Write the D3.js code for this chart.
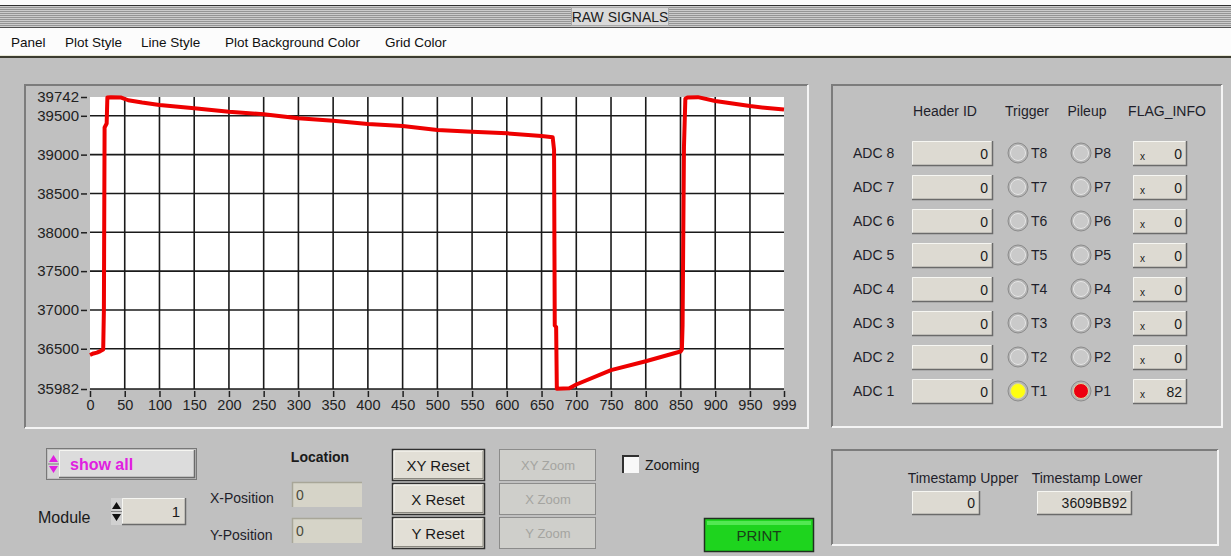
<!DOCTYPE html>
<html>
<head>
<meta charset="utf-8">
<script src="https://cdn.jsdelivr.net/npm/d3@7"></script>
<style>
  body { margin: 0; background: #c0c0c0; }
  svg { display: block; font-family: "Liberation Sans", Arial, sans-serif; }
</style>
</head>
<body>
<svg width="1231" height="556"></svg>
<script>
// ---- data ----
const signalX = [0, 5, 10, 15, 19, 20, 21, 24, 25, 30, 45, 55, 75, 100, 150, 200, 250, 300, 350, 400, 450,
  500, 550, 600, 650, 666, 668, 669, 671, 672, 690, 700, 750, 800, 850, 852, 853, 855, 857, 860, 875, 900, 950, 975, 999];
const signalY = [36420, 36440, 36450, 36470, 36490, 37000, 39350, 39400, 39735, 39740, 39735, 39700, 39670, 39640,
  39597, 39553, 39519, 39467, 39437, 39394, 39369, 39317, 39296, 39274, 39240, 39225, 39060, 36800, 36780, 35985,
  35992, 36040, 36225, 36340, 36465, 36490, 36800, 39100, 39720, 39735, 39740, 39690, 39625, 39600, 39580];
const yTicks = [35982, 36500, 37000, 37500, 38000, 38500, 39000, 39500, 39742];
const xTicks = [0, 50, 100, 150, 200, 250, 300, 350, 400, 450, 500, 550, 600, 650, 700, 750, 800, 850, 900, 950, 999];

const menuItems = ["Panel", "Plot Style", "Line Style", "Plot Background Color", "Grid Color"];
const menuX = [11, 65, 141, 225, 385];

const adcLabels = ["ADC 8", "ADC 7", "ADC 6", "ADC 5", "ADC 4", "ADC 3", "ADC 2", "ADC 1"];
const headerIds = [0, 0, 0, 0, 0, 0, 0, 0];
const triggerOn = [0, 0, 0, 0, 0, 0, 0, 1];
const pileupOn = [0, 0, 0, 0, 0, 0, 0, 1];
const flagInfo = [0, 0, 0, 0, 0, 0, 0, 82];
const timestampUpper = "0";
const timestampLower = "3609BB92";

const svg = d3.select('svg');
const WIDTH = +svg.attr('width');

// ---- title bar + menu ----
svg.append('rect').attr('x', 0).attr('y', 0).attr('width', WIDTH).attr('height', 57).attr('fill', '#fcfcfc');
svg.append('rect').attr('x', 0).attr('y', 5).attr('width', WIDTH).attr('height', 23).attr('fill', '#cccccc');
svg.append('g').selectAll('line')
  .data(d3.range(7.5, 27, 2))
  .enter().append('line')
  .attr('x1', 0).attr('x2', WIDTH)
  .attr('y1', d => d).attr('y2', d => d)
  .attr('stroke', '#959595').attr('stroke-width', 1);
svg.append('line').attr('x1', 0).attr('x2', WIDTH).attr('y1', 5.5).attr('y2', 5.5).attr('stroke', '#303030');
svg.append('line').attr('x1', 0).attr('x2', WIDTH).attr('y1', 27.5).attr('y2', 27.5).attr('stroke', '#505050');
svg.append('rect').attr('x', 571.5).attr('y', 7.5).attr('width', 97).attr('height', 18).attr('fill', '#dadada').attr('stroke', '#a8a8a8');
svg.append('text').attr('x', 620).attr('y', 21.5).attr('text-anchor', 'middle')
  .style('font-size', '14px').attr('fill', '#202020').text('RAW SIGNALS');

svg.append('g').selectAll('text')
  .data(menuItems)
  .enter().append('text')
  .attr('x', (d, i) => menuX[i]).attr('y', 47)
  .style('font-size', '13.5px').attr('fill', '#101010')
  .text(d => d);
svg.append('rect').attr('x', 0).attr('y', 55).attr('width', WIDTH).attr('height', 1).attr('fill', '#e8e8d8');
svg.append('rect').attr('x', 0).attr('y', 56).attr('width', WIDTH).attr('height', 2).attr('fill', '#3c3c30');

// recessed frame helper
let frame = (x, y, w, h) => {
  let g = svg.append('g');
  g.append('path').attr('d', `M${x},${y + h}V${y}H${x + w}`).attr('fill', 'none').attr('stroke', '#7c7c7c').attr('stroke-width', 2);
  g.append('path').attr('d', `M${x},${y + h}H${x + w}V${y}`).attr('fill', 'none').attr('stroke', '#f4f4f4').attr('stroke-width', 2);
};

// 3D box helper (numeric indicators)
let box = (x, y, w, h, fill) => {
  let g = svg.append('g');
  g.append('rect').attr('x', x).attr('y', y).attr('width', w).attr('height', h).attr('fill', fill || '#dddad2');
  g.append('path').attr('d', `M${x + 0.5},${y + h}V${y + 0.5}H${x + w}`).attr('fill', 'none').attr('stroke', '#f6f6f2');
  g.append('path').attr('d', `M${x},${y + h - 0.5}H${x + w - 0.5}V${y}`).attr('fill', 'none').attr('stroke', '#6a6a6a').attr('stroke-width', 1.5);
  return g;
};

// ---- chart ----
frame(25, 85, 783, 343);
const plot = {left: 90, right: 784, top: 97, bottom: 389};
const xScale = d3.scaleLinear().domain([0, 999]).range([plot.left, plot.right]);
const yScale = d3.scaleLinear().domain([35982, 39742]).range([plot.bottom, plot.top]);

svg.append('rect')
  .attr('x', plot.left).attr('y', plot.top)
  .attr('width', plot.right - plot.left).attr('height', plot.bottom - plot.top)
  .attr('fill', '#ffffff');

let grid = svg.append('g');
grid.selectAll('.vgrid')
  .data(xTicks.filter(d => d > 0 && d < 999))
  .enter().append('line')
  .attr('class', 'vgrid')
  .attr('x1', d => xScale(d)).attr('x2', d => xScale(d))
  .attr('y1', plot.top).attr('y2', plot.bottom)
  .attr('stroke', '#1a1a1a').attr('stroke-width', 1.6);
grid.selectAll('.hgrid')
  .data(yTicks.filter(d => d < 39742))
  .enter().append('line')
  .attr('class', 'hgrid')
  .attr('x1', plot.left).attr('x2', plot.right)
  .attr('y1', d => yScale(d)).attr('y2', d => yScale(d))
  .attr('stroke', '#1a1a1a').attr('stroke-width', 1.6);

let yAxis = d3.axisLeft(yScale).tickValues(yTicks).tickSize(6).tickPadding(2).tickFormat(d3.format('d'));
let yg = svg.append('g').attr('transform', 'translate(87,0)').call(yAxis);
yg.select('.domain').remove();
yg.selectAll('line').attr('stroke', '#202020').attr('stroke-width', 1.5);
yg.selectAll('text').style('font-size', '15px').style('font-family', '"Liberation Sans", Arial, sans-serif').attr('fill', '#222');

let xAxis = d3.axisBottom(xScale).tickValues(xTicks).tickSize(6).tickPadding(3).tickFormat(d3.format('d'));
let xg = svg.append('g').attr('transform', 'translate(0,' + (plot.bottom + 2) + ')').call(xAxis);
xg.select('.domain').remove();
xg.selectAll('line').attr('stroke', '#202020').attr('stroke-width', 1.5);
xg.selectAll('text').style('font-size', '14.5px').style('font-family', '"Liberation Sans", Arial, sans-serif').attr('fill', '#222');

const signal = signalX.map((x, i) => ({x: x, y: signalY[i]}));
svg.append('path')
  .datum(signal)
  .attr('d', d3.line().x(d => xScale(d.x)).y(d => yScale(d.y)))
  .attr('fill', 'none')
  .attr('stroke', '#ee0000')
  .attr('stroke-width', 4)
  .attr('stroke-linejoin', 'round');

// ---- ADC status panel ----
frame(832, 85, 390, 342);
const headerCols = [{t: 'Header ID', x: 945}, {t: 'Trigger', x: 1027}, {t: 'Pileup', x: 1087}, {t: 'FLAG_INFO', x: 1167}];
svg.append('g').selectAll('text')
  .data(headerCols)
  .enter().append('text')
  .attr('x', d => d.x).attr('y', 116).attr('text-anchor', 'middle')
  .style('font-size', '14px').attr('fill', '#1e1e2a')
  .text(d => d.t);

let led = (cx, cy, on, color) => {
  svg.append('circle').attr('cx', cx).attr('cy', cy).attr('r', 10)
    .attr('fill', '#b4b4b4').attr('stroke', '#8c8c8c').attr('stroke-width', 1);
  svg.append('circle').attr('cx', cx).attr('cy', cy).attr('r', 7.5)
    .attr('fill', on ? color : '#cacaca').attr('stroke', on ? '#d8d8a0' : '#e6e6e6').attr('stroke-width', 1);
};

adcLabels.forEach((label, i) => {
  let cy = 153 + i * 34;
  svg.append('text').attr('x', 853).attr('y', cy + 5).style('font-size', '14px').attr('fill', '#1e1e2a').text(label);
  box(912, cy - 12, 81, 25);
  svg.append('text').attr('x', 988).attr('y', cy + 5.5).attr('text-anchor', 'end')
    .style('font-size', '14px').attr('fill', '#1a1a1a').text(headerIds[i]);
  led(1018, cy, triggerOn[i], '#ffff10');
  svg.append('text').attr('x', 1031).attr('y', cy + 5).style('font-size', '14px').attr('fill', '#1e1e2a').text('T' + (8 - i));
  led(1081, cy, pileupOn[i], '#ee0010');
  svg.append('text').attr('x', 1094).attr('y', cy + 5).style('font-size', '14px').attr('fill', '#1e1e2a').text('P' + (8 - i));
  box(1133, cy - 12, 54, 25);
  svg.append('text').attr('x', 1140).attr('y', cy + 7).style('font-size', '10px').attr('fill', '#202020').text('x');
  svg.append('text').attr('x', 1182).attr('y', cy + 5.5).attr('text-anchor', 'end')
    .style('font-size', '14px').attr('fill', '#1a1a1a').text(flagInfo[i]);
});

// ---- timestamp panel ----
frame(832, 450, 386, 95);
svg.append('text').attr('x', 963).attr('y', 483).attr('text-anchor', 'middle').style('font-size', '14px').attr('fill', '#1e1e2a').text('Timestamp Upper');
svg.append('text').attr('x', 1087).attr('y', 483).attr('text-anchor', 'middle').style('font-size', '14px').attr('fill', '#1e1e2a').text('Timestamp Lower');
box(912, 491, 68, 24);
svg.append('text').attr('x', 975).attr('y', 508).attr('text-anchor', 'end').style('font-size', '14px').attr('fill', '#1a1a1a').text(timestampUpper);
box(1037, 491, 95, 24);
svg.append('text').attr('x', 1127).attr('y', 508).attr('text-anchor', 'end').style('font-size', '14px').attr('fill', '#1a1a1a').text(timestampLower);

// ---- bottom-left controls ----
svg.append('rect').attr('x', 46.5).attr('y', 448.5).attr('width', 150).attr('height', 31)
  .attr('fill', 'none').attr('stroke', '#303030').attr('stroke-dasharray', '1,1');
box(59, 450, 136, 28, '#dcdcdc');
svg.append('rect').attr('x', 48).attr('y', 450).attr('width', 11).attr('height', 28).attr('fill', '#d4d4d4');
svg.append('path').attr('d', 'M49,462L53.5,455L58,462Z M49,466L53.5,473L58,466Z').attr('fill', '#e020e0');
svg.append('line').attr('x1', 48).attr('x2', 59).attr('y1', 464).attr('y2', 464).attr('stroke', '#808080');
svg.append('text').attr('x', 70).attr('y', 469.5).style('font-size', '16px').style('font-weight', 'bold')
  .attr('fill', '#e020e0').text('show all');

svg.append('text').attr('x', 38).attr('y', 523).style('font-size', '16px').attr('fill', '#1a1a1a').text('Module');
svg.append('rect').attr('x', 111).attr('y', 498).attr('width', 11).attr('height', 27).attr('fill', '#d0d0d0');
svg.append('path').attr('d', 'M112,509L116.5,502L121,509Z M112,514L116.5,521L121,514Z').attr('fill', '#101010');
svg.append('line').attr('x1', 111).attr('x2', 122).attr('y1', 511.5).attr('y2', 511.5).attr('stroke', '#808080');
box(122, 498, 64, 27);
svg.append('text').attr('x', 180).attr('y', 517).attr('text-anchor', 'end').style('font-size', '15px').attr('fill', '#1a1a1a').text('1');

svg.append('text').attr('x', 320).attr('y', 462).attr('text-anchor', 'middle').style('font-size', '14px')
  .style('font-weight', 'bold').attr('fill', '#1a1a1a').text('Location');
svg.append('text').attr('x', 210).attr('y', 503).style('font-size', '14px').attr('fill', '#1e1e2a').text('X-Position');
svg.append('text').attr('x', 210).attr('y', 540).style('font-size', '14px').attr('fill', '#1e1e2a').text('Y-Position');
[482, 518].forEach(y => {
  svg.append('rect').attr('x', 292).attr('y', y).attr('width', 70).attr('height', 25).attr('fill', '#d6d4c8');
  svg.append('path').attr('d', `M292.5,${y + 25}V${y + 0.5}H362`).attr('fill', 'none').attr('stroke', '#a8a698').attr('stroke-width', 1.5);
  svg.append('text').attr('x', 296).attr('y', y + 18).style('font-size', '14px').attr('fill', '#4a4a3a').text('0');
});

// buttons
const resetLabels = ['XY Reset', 'X Reset', 'Y Reset'];
const zoomLabels = ['XY Zoom', 'X Zoom', 'Y Zoom'];
const buttonY = [449, 483, 517];
resetLabels.forEach((t, i) => {
  let y = buttonY[i];
  svg.append('rect').attr('x', 392.5).attr('y', y + 0.5).attr('width', 92).attr('height', 31)
    .attr('fill', '#e2dfd6').attr('stroke', '#303030').attr('stroke-width', 1.5);
  svg.append('path').attr('d', `M394,${y + 29}V${y + 2}H483`).attr('fill', 'none').attr('stroke', '#fbfbf6');
  svg.append('path').attr('d', `M394,${y + 29.5}H483V${y + 2}`).attr('fill', 'none').attr('stroke', '#8a8880');
  svg.append('text').attr('x', 438).attr('y', y + 21.5).attr('text-anchor', 'middle')
    .style('font-size', '15px').attr('fill', '#1a1a1a').text(t);
});
zoomLabels.forEach((t, i) => {
  let y = buttonY[i];
  svg.append('rect').attr('x', 499.5).attr('y', y + 0.5).attr('width', 96).attr('height', 31)
    .attr('fill', '#cfcfcb').attr('stroke', '#505050').attr('stroke-dasharray', '1,1');
  svg.append('text').attr('x', 548).attr('y', y + 21).attr('text-anchor', 'middle')
    .style('font-size', '13px').attr('fill', '#a4a4a0').text(t);
});

// checkbox
svg.append('rect').attr('x', 622).attr('y', 455).attr('width', 17).attr('height', 18).attr('fill', '#f8f8f8');
svg.append('path').attr('d', 'M623,473V456H639').attr('fill', 'none').attr('stroke', '#303030').attr('stroke-width', 2);
svg.append('text').attr('x', 645).attr('y', 470).style('font-size', '14px').attr('fill', '#1a1a1a').text('Zooming');

// print button
svg.append('rect').attr('x', 704.5).attr('y', 518.5).attr('width', 109).attr('height', 33)
  .attr('fill', '#1ed41e').attr('stroke', '#203020').attr('stroke-width', 1.5);
svg.append('rect').attr('x', 707).attr('y', 521).attr('width', 104).attr('height', 4).attr('fill', '#52e852');
svg.append('text').attr('x', 759).attr('y', 541).attr('text-anchor', 'middle')
  .style('font-size', '15px').attr('fill', '#184018').text('PRINT');
</script>
</body>
</html>
